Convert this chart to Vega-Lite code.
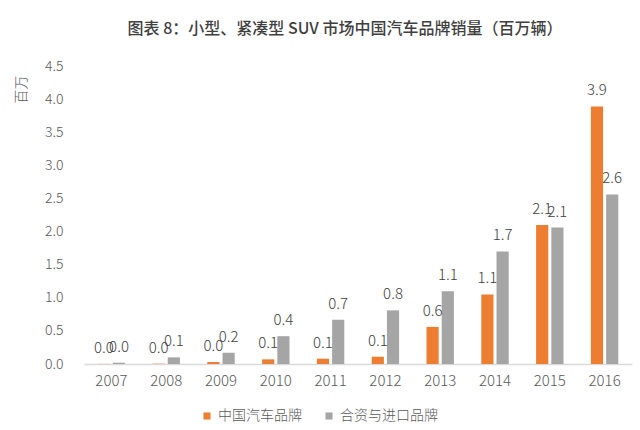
{
  "$schema": "https://vega.github.io/schema/vega-lite/v6.json",
  "width": 548,
  "height": 298,
  "autosize": {"type": "none"},
  "padding": {"left": 84, "top": 66, "right": 8, "bottom": 66},
  "background": "white",
  "config": {"view": {"stroke": null}, "font": "Noto Sans CJK SC"},
  "title": {
    "text": "图表 8：小型、紧凑型 SUV 市场中国汽车品牌销量（百万辆）",
    "fontSize": 16,
    "fontWeight": 500,
    "color": "#3F3F3F",
    "font": "Noto Sans CJK SC",
    "anchor": "middle",
    "offset": 22,
    "dx": -13
  },
  "data": {
    "values": [
      {"year": "2007", "brand": "中国汽车品牌", "value": 0.002},
      {"year": "2007", "brand": "合资与进口品牌", "value": 0.02},
      {"year": "2008", "brand": "中国汽车品牌", "value": 0.005},
      {"year": "2008", "brand": "合资与进口品牌", "value": 0.10},
      {"year": "2009", "brand": "中国汽车品牌", "value": 0.03},
      {"year": "2009", "brand": "合资与进口品牌", "value": 0.17},
      {"year": "2010", "brand": "中国汽车品牌", "value": 0.07},
      {"year": "2010", "brand": "合资与进口品牌", "value": 0.42},
      {"year": "2011", "brand": "中国汽车品牌", "value": 0.08},
      {"year": "2011", "brand": "合资与进口品牌", "value": 0.67},
      {"year": "2012", "brand": "中国汽车品牌", "value": 0.11},
      {"year": "2012", "brand": "合资与进口品牌", "value": 0.81},
      {"year": "2013", "brand": "中国汽车品牌", "value": 0.56},
      {"year": "2013", "brand": "合资与进口品牌", "value": 1.10},
      {"year": "2014", "brand": "中国汽车品牌", "value": 1.05},
      {"year": "2014", "brand": "合资与进口品牌", "value": 1.70},
      {"year": "2015", "brand": "中国汽车品牌", "value": 2.10},
      {"year": "2015", "brand": "合资与进口品牌", "value": 2.06},
      {"year": "2016", "brand": "中国汽车品牌", "value": 3.89},
      {"year": "2016", "brand": "合资与进口品牌", "value": 2.56}
    ]
  },
  "encoding": {
    "x": {
      "field": "year",
      "type": "nominal",
      "scale": {"paddingInner": 0.5, "paddingOuter": 0.25},
      "axis": {
        "title": null,
        "labelAngle": 0,
        "labelFontSize": 15,
        "labelFontWeight": 300,
        "labelColor": "#595959",
        "labelPadding": 9,
        "ticks": false,
        "domainColor": "#D9D9D9",
        "domainWidth": 1.5,
        "labelFont": "Noto Sans CJK SC"
      }
    },
    "xOffset": {
      "field": "brand",
      "type": "nominal",
      "sort": ["中国汽车品牌", "合资与进口品牌"],
      "scale": {"paddingInner": 0.2}
    },
    "y": {
      "field": "value",
      "type": "quantitative",
      "scale": {"domain": [0, 4.5]},
      "axis": {
        "title": "百万",
        "titleFontSize": 14,
        "titleFontWeight": 300,
        "titleColor": "#595959",
        "titleAngle": 270,
        "titleAlign": "center",
        "titleBaseline": "middle",
        "titleX": -63,
        "titleY": 23,
        "values": [0, 0.5, 1, 1.5, 2, 2.5, 3, 3.5, 4, 4.5],
        "format": ".1f",
        "grid": false,
        "domain": false,
        "ticks": false,
        "labelPadding": 21,
        "labelFontSize": 14,
        "labelFontWeight": 300,
        "labelColor": "#595959",
        "labelFont": "Noto Sans CJK SC"
      }
    }
  },
  "layer": [
    {
      "mark": {"type": "bar"},
      "encoding": {
        "color": {
          "field": "brand",
          "type": "nominal",
          "sort": ["中国汽车品牌", "合资与进口品牌"],
          "scale": {"domain": ["中国汽车品牌", "合资与进口品牌"], "range": ["#ED7D31", "#A5A5A5"]},
          "legend": {
            "title": null,
            "orient": "none",
            "legendX": 116,
            "legendY": 343,
            "direction": "horizontal",
            "symbolType": "square",
            "symbolSize": 50,
            "labelFontSize": 14,
            "labelFontWeight": 300,
            "labelColor": "#595959",
            "labelFont": "Noto Sans CJK SC",
            "columnPadding": 20,
            "labelOffset": 4
          }
        }
      }
    },
    {
      "mark": {"type": "text", "baseline": "bottom", "dy": -8, "fontSize": 15, "fontWeight": 300, "color": "#404040", "font": "Noto Sans CJK SC"},
      "encoding": {
        "text": {"field": "value", "type": "quantitative", "format": ".1f"}
      }
    }
  ]
}
